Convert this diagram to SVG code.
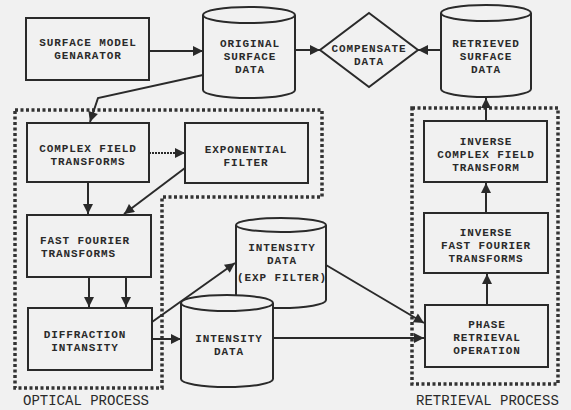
<svg xmlns="http://www.w3.org/2000/svg" width="571" height="410" viewBox="0 0 571 410">
<defs>
<marker id="ah" viewBox="0 0 10 10" refX="10" refY="5" markerWidth="12" markerHeight="10" markerUnits="userSpaceOnUse" orient="auto">
<path d="M0,0 L10,5 L0,10 Z" fill="#2a2a2a"/>
</marker>
</defs>
<style>
.box{fill:#f1f1f1;stroke:#2a2a2a;stroke-width:2}
.cyl{fill:#f1f1f1;stroke:#2a2a2a;stroke-width:2}
.t{font-family:"Liberation Mono","DejaVu Sans Mono",monospace;font-size:11px;letter-spacing:0.9px;font-weight:bold;fill:#2a2a2a;text-anchor:middle}
.lbl{font-family:"Liberation Mono","DejaVu Sans Mono",monospace;font-size:14px;fill:#2a2a2a}
.c{fill:none;stroke:#2a2a2a;stroke-width:2;marker-end:url(#ah)}
.dash{fill:none;stroke:#333;stroke-width:3.5;stroke-dasharray:3 2.5}
</style>
<rect width="571" height="410" fill="#f1f1f1"/>

<g id="optical-process">
<path class="dash" d="M15,110 L322,110 L322,197 L162,197 L162,388 L15,388 Z"/>
<text class="lbl" x="23" y="405">OPTICAL PROCESS</text>
</g>
<g id="retrieval-process">
<path class="dash" d="M412,108 L558,108 L558,384 L412,384 Z"/>
<text class="lbl" x="416" y="405">RETRIEVAL PROCESS</text>
</g>

<g id="connectors">
<line class="c" x1="149" y1="51" x2="203" y2="51"/>
<line class="c" x1="295" y1="50" x2="320" y2="50"/>
<line class="c" x1="441" y1="50" x2="418" y2="50"/>
<polyline class="c" points="203,75 98,98 90,122"/>
<line class="c" x1="149" y1="153" x2="185" y2="153" stroke-dasharray="2 1"/>
<line class="c" x1="88" y1="182" x2="88" y2="214"/>
<line class="c" x1="185" y1="168" x2="124" y2="214"/>
<line class="c" x1="89" y1="277" x2="89" y2="307"/>
<line class="c" x1="126" y1="277" x2="126" y2="307"/>
<line class="c" x1="152" y1="339" x2="181" y2="339"/>
<line class="c" x1="152" y1="322" x2="235" y2="263"/>
<line class="c" x1="326" y1="265" x2="424" y2="323"/>
<line class="c" x1="273" y1="338" x2="424" y2="338"/>
<line class="c" x1="487" y1="305" x2="487" y2="274"/>
<line class="c" x1="486" y1="213" x2="486" y2="183"/>
<line class="c" x1="486" y1="121" x2="486" y2="98"/>
</g>

<g id="surface-model-generator">
<rect class="box" x="26" y="18" width="123" height="62"/>
<text class="t" x="88" y="46">SURFACE MODEL</text>
<text class="t" x="88" y="59">GENARATOR</text>
</g>

<g id="original-surface-data">
<path class="cyl" d="M203,15 L203,90 A46,8 0 0 0 295,90 L295,15"/>
<ellipse class="cyl" cx="249" cy="15" rx="46" ry="8"/>
<text class="t" x="250" y="47">ORIGINAL</text>
<text class="t" x="250" y="60">SURFACE</text>
<text class="t" x="250" y="73">DATA</text>
</g>

<g id="compensate-data">
<polygon class="box" points="369,13 418,50 369,87 320,50"/>
<text class="t" x="369" y="52">COMPENSATE</text>
<text class="t" x="369" y="65">DATA</text>
</g>

<g id="retrieved-surface-data">
<path class="cyl" d="M441,13 L441,89 A45,8 0 0 0 531,89 L531,13"/>
<ellipse class="cyl" cx="486" cy="13" rx="45" ry="8"/>
<text class="t" x="486" y="47">RETRIEVED</text>
<text class="t" x="486" y="60">SURFACE</text>
<text class="t" x="486" y="73">DATA</text>
</g>

<g id="complex-field-transforms">
<rect class="box" x="27" y="123" width="122" height="59"/>
<text class="t" x="88" y="152">COMPLEX FIELD</text>
<text class="t" x="88" y="165">TRANSFORMS</text>
</g>

<g id="exponential-filter">
<rect class="box" x="185" y="123" width="123" height="60"/>
<text class="t" x="246" y="153">EXPONENTIAL</text>
<text class="t" x="246" y="166">FILTER</text>
</g>

<g id="fast-fourier-transforms">
<rect class="box" x="27" y="215" width="124" height="62"/>
<text class="t" x="40" y="244" style="text-anchor:start">FAST FOURIER</text>
<text class="t" x="41" y="257" style="text-anchor:start">TRANSFORMS</text>
</g>

<g id="diffraction-intensity">
<rect class="box" x="28" y="308" width="124" height="62"/>
<text class="t" x="85" y="338">DIFFRACTION</text>
<text class="t" x="85" y="351">INTANSITY</text>
</g>

<g id="intensity-data-exp-filter">
<path class="cyl" d="M236,225 L236,300 A45,8 0 0 0 326,300 L326,225"/>
<ellipse class="cyl" cx="281" cy="225" rx="45" ry="7"/>
<text class="t" x="282" y="251">INTENSITY</text>
<text class="t" x="282" y="264">DATA</text>
<text class="t" x="282" y="281">(EXP FILTER)</text>
</g>

<g id="intensity-data">
<path class="cyl" d="M181,303 L181,379 A46,8 0 0 0 273,379 L273,303"/>
<ellipse class="cyl" cx="227" cy="303" rx="46" ry="8"/>
<text class="t" x="229" y="342">INTENSITY</text>
<text class="t" x="229" y="355">DATA</text>
</g>

<g id="inverse-complex-field-transform">
<rect class="box" x="424" y="121" width="123" height="61"/>
<text class="t" x="486" y="145">INVERSE</text>
<text class="t" x="486" y="158">COMPLEX FIELD</text>
<text class="t" x="486" y="171">TRANSFORM</text>
</g>

<g id="inverse-fast-fourier-transforms">
<rect class="box" x="424" y="213" width="124" height="60"/>
<text class="t" x="486" y="236">INVERSE</text>
<text class="t" x="486" y="249">FAST FOURIER</text>
<text class="t" x="486" y="262">TRANSFORMS</text>
</g>

<g id="phase-retrieval-operation">
<rect class="box" x="425" y="305" width="123" height="62"/>
<text class="t" x="487" y="328">PHASE</text>
<text class="t" x="487" y="341">RETRIEVAL</text>
<text class="t" x="487" y="354">OPERATION</text>
</g>
</svg>
